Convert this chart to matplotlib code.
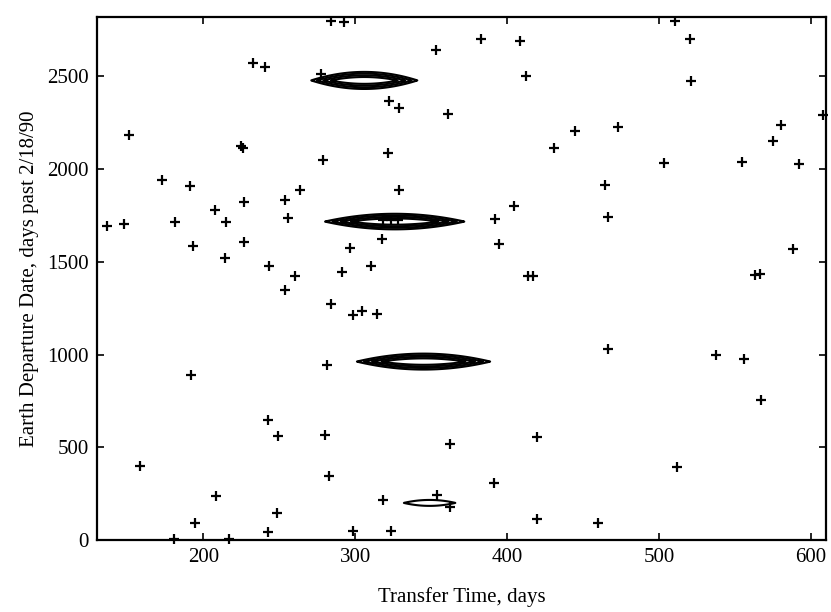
import numpy as np
import matplotlib
matplotlib.use("Agg")
import matplotlib.pyplot as plt

plt.rcParams['font.family'] = ['Liberation Serif', 'DejaVu Serif']

# Scattered trial points (transfer time, departure date)
transfer_days = [
    233, 240.5, 151, 225, 226, 172.7, 191.4, 226.5, 208, 136.8, 148, 181.5, 215.2,
    193.4, 226.5, 214.3, 243.3,
    283.8, 292.6, 353.1, 277.2, 322.4, 329, 360.9, 278.7, 321.9, 263.7, 329, 253.8,
    255.6, 318, 323.4, 328, 317.4, 296.9, 310.7, 291.6, 260.2,
    383.1, 408.6, 412.3, 444.9, 472.8, 430.7, 464.2, 404.6, 392.3, 466.7, 395, 414, 417,
    510.4, 520.3, 520.8, 608, 580.5, 575.4, 503.2, 554.9, 592.3, 588.6, 563.2, 566.5,
    191.6, 242.7, 249.3, 158.6, 208.4, 194.5, 248.2, 180.4, 216.7, 242.7,
    254.1, 283.8, 298.8, 304.3, 314.6, 281.2, 280.1, 362.6, 282.8, 318.5, 353.7, 362.5,
    298.6, 323.4,
    466.7, 419.5, 391.6, 420, 459.8,
    537.5, 556, 567.2, 512.2,
]
departure_days = [
    2572, 2551, 2186, 2122, 2112, 1939, 1910, 1820, 1779, 1695, 1705, 1712, 1714,
    1587, 1607, 1520, 1477,
    2797, 2793, 2644, 2513, 2369, 2327, 2297, 2047, 2087, 1885, 1889, 1831,
    1734, 1723, 1723, 1723, 1625, 1572, 1479, 1445, 1421,
    2702, 2693, 2500, 2203, 2225, 2114, 1916, 1803, 1732, 1742, 1598, 1421, 1421,
    2800, 2703, 2477, 2290, 2239, 2153, 2033, 2038, 2029, 1569, 1427, 1436,
    887, 645, 562, 400, 235, 91, 145, 5, 5, 42,
    1346, 1272, 1215, 1233, 1218, 945, 567, 517, 343, 215, 244, 177,
    46, 46,
    1030, 553, 305, 113, 94,
    995, 977, 756, 391,
]

# Contour basins (centre, half-width, half-height, depth)
basin_cx = [306, 326, 345, 349]
basin_cy = [2478, 1717, 962, 200]
basin_hw = [35, 46, 44, 17]
basin_hh = [46, 42, 43, 16]
basin_depth = [1.0, 1.0, 1.0, 0.1]
contour_levels = [0.0, 0.2, 0.4, 0.6]

x_ticks = [200, 300, 400, 500, 600]
y_ticks = [0, 500, 1000, 1500, 2000, 2500]

fig = plt.figure(figsize=(8.31, 6.12), dpi=100)
ax = fig.add_axes([97/831, 1-540/612, (826-97)/831, (540-17)/612])

xg = np.linspace(130, 610, 1400)
yg = np.linspace(0, 2820, 3500)
X, Y = np.meshgrid(xg, yg)
G = np.full(X.shape, -10.0)
for cx, cy, hw, hh, d in zip(basin_cx, basin_cy, basin_hw, basin_hh, basin_depth):
    f = np.abs(Y - cy) / hh + ((X - cx) / hw) ** 2
    G = np.maximum(G, d * (1 - f))
ax.contour(X, Y, G, levels=contour_levels, colors='black', linewidths=1.5)

ax.plot(transfer_days, departure_days, linestyle='none', marker='+',
        color='black', markersize=7, markeredgewidth=1.6, clip_on=False, zorder=3)

ax.set_xlim(130, 610)
ax.set_ylim(0, 2820)
ax.set_xticks(x_ticks)
ax.set_yticks(y_ticks)
ax.tick_params(direction='in', length=5, width=1.2, top=True, right=True,
               labelsize=15, pad=6)
for s in ax.spines.values():
    s.set_linewidth(1.6)

ax.set_xlabel('Transfer Time, days', fontsize=15, labelpad=14)
ax.set_ylabel('Earth Departure Date, days past 2/18/90', fontsize=15, labelpad=6)

fig.savefig('out.png', dpi=100)
